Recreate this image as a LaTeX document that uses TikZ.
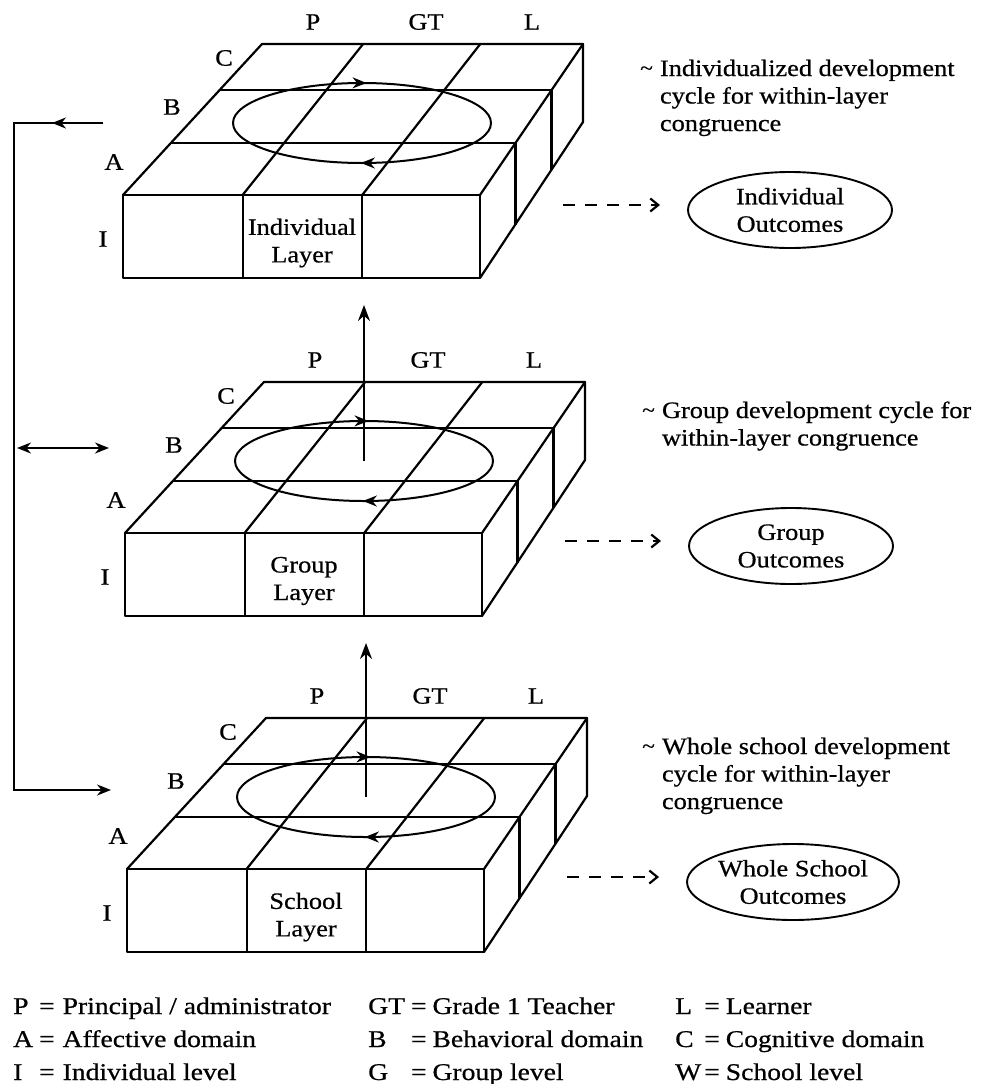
\documentclass[tikz,border=0pt]{standalone}
\usepackage{fontspec}
\setmainfont{Liberation Serif}[FakeStretch=1.12,FakeBold=0.6]
\newfontfamily\legendfont{Liberation Serif}[FakeStretch=1.15,FakeBold=0.6]
\usetikzlibrary{arrows.meta,shapes.geometric,decorations.markings,calc}

\tikzset{
  slab/.style={line width=2.2pt, line join=round, line cap=round},
  txt/.style={font=\fontsize{23.5}{27.5}\selectfont, inner sep=0pt, outer sep=0pt},
  legend/.style={font=\legendfont\fontsize{24}{33}\selectfont, inner sep=0pt, anchor=base west},
  cyclepath/.style={line width=2pt, postaction={decorate}, decoration={markings,
      mark=at position 0.252 with {\arrow{Stealth[length=14pt,width=11pt]}},
      mark=at position 0.758 with {\arrow{Stealth[length=14pt,width=11pt]}}}},
  outcome/.style={draw, ellipse, line width=1.9pt, minimum width=204pt,
      minimum height=76pt, inner sep=0pt, align=center, txt},
  flow/.style={line width=1.9pt, -{Stealth[length=16pt,width=12pt]}},
  feedback/.style={line width=2pt},
  headl/.style={-{Stealth[length=14pt,width=11pt]}},
  result/.style={line width=2.2pt, dash pattern=on 12pt off 10pt,
      -{Straight Barb[length=8pt,width=13pt]}},
  tilde/.style={font=\fontsize{21}{24}\selectfont, inner sep=0pt, anchor=base west},
}

% one layer of the model: a 3x3x1 slab of cells with its development cycle
\newcommand\layerslab[4]{%
\begin{scope}[shift={(#1,#2)}]
  \coordinate (#3-flt) at (123,195);
  \coordinate (#3-frt) at (480,195);
  \coordinate (#3-blt) at (262,44);
  \coordinate (#3-brt) at (583,44);
  \coordinate (#3-flb) at (123,278);
  \coordinate (#3-frb) at (480,278);
  \coordinate (#3-brb) at (583,122);
  \coordinate (#3-ctr) at (362,123);
  \coordinate (#3-bot) at (362,278);
  % front face
  \draw[slab] (#3-flt) rectangle (#3-frb);
  \foreach \t in {0.335,0.67}
    \draw[slab] ($(#3-flt)!\t!(#3-frt)$) -- ($(#3-flb)!\t!(#3-frb)$);
  % top face and right face
  \draw[slab] (#3-flt) -- (#3-blt) -- (#3-brt) -- (#3-brb) -- (#3-frb);
  \draw[slab] (#3-frt) -- (#3-brt);
  \foreach \tf/\tb in {0.335/0.315,0.67/0.68}
    \draw[slab] ($(#3-flt)!\tf!(#3-frt)$) -- ($(#3-blt)!\tb!(#3-brt)$);
  \foreach \s in {0.345,0.695}
    \draw[slab] ($(#3-flt)!\s!(#3-blt)$) -- ($(#3-frt)!\s!(#3-brt)$) -- ($(#3-frb)!\s!(#3-brb)$);
  % development cycle
  \draw[cyclepath] (#3-ctr) ellipse [x radius=129, y radius=40];
  % axis labels
  \node[txt] (#3-P)  at (313,22) {P};
  \node[txt] (#3-GT) at (426,22) {GT};
  \node[txt] (#3-L)  at (532,22) {L};
  \node[txt] (#3-C)  at (224,58) {C};
  \node[txt] (#3-B)  at (172,107) {B};
  \node[txt] (#3-A)  at (114,162) {A};
  \node[txt] (#3-I)  at (103,239) {I};
  \node[txt, align=center] (#3-cap) at (302,243) {#4};
\end{scope}}

\begin{document}
\begin{tikzpicture}[x=1pt,y=-1pt]
\path[use as bounding box, fill=white] (0,0) rectangle (980,1084);

\layerslab{0}{0}{ind}{Individual\\Layer}
\layerslab{2}{338}{grp}{Group\\Layer}
\layerslab{4}{674}{sch}{School\\Layer}

% upward links between layers
\draw[flow] (grp-ctr) -- (grp-ctr |- ind-bot) [shorten >=27pt];
\draw[flow] (sch-ctr) -- (sch-ctr |- grp-bot) [shorten >=27pt];

% cycle descriptions
\node[tilde] (ind-tl) at (640,75) {\textasciitilde};
\node[txt, anchor=base west] (ind-txt) at (660,76)
  {\begin{tabular}[t]{@{}l@{}}Individualized development\\cycle for within-layer\\congruence\end{tabular}};
\node[tilde] (grp-tl) at (642,417) {\textasciitilde};
\node[txt, anchor=base west] (grp-txt) at (662,418)
  {\begin{tabular}[t]{@{}l@{}}Group development cycle for\\within-layer congruence\end{tabular}};
\node[tilde] (sch-tl) at (642,753) {\textasciitilde};
\node[txt, anchor=base west] (sch-txt) at (662,754)
  {\begin{tabular}[t]{@{}l@{}}Whole school development\\cycle for within-layer\\congruence\end{tabular}};

% outcomes
\node[outcome] (ind-out) at (790,210) {Individual\\Outcomes};
\node[outcome] (grp-out) at (791,546) {Group\\Outcomes};
\node[outcome] (sch-out) at (793,882) {Whole School\\Outcomes};

\coordinate (ind-ds) at (563,205);
\coordinate (grp-ds) at (565,541);
\coordinate (sch-ds) at (567,877);
\draw[result] (ind-ds) -- (ind-ds -| ind-out.west) [shorten >=28pt];
\draw[result] (grp-ds) -- (grp-ds -| grp-out.west) [shorten >=28pt];
\draw[result] (sch-ds) -- (sch-ds -| sch-out.west) [shorten >=28pt];

% feedback loop on the left
\coordinate (fb-a) at (103,123);
\coordinate (fb-m) at (52,123);
\coordinate (fb-b) at (14,123);
\coordinate (fb-c) at (14,790);
\coordinate (fb-d) at (111,790);
\coordinate (fb-l) at (17,448);
\coordinate (fb-r) at (109,448);
\draw[feedback, headl] (fb-a) -- (fb-b) -- (fb-c) -- (fb-d);
\draw[feedback, headl] (fb-a) -- (fb-m);
\draw[feedback, {Stealth[length=14pt,width=11pt]}-{Stealth[length=14pt,width=11pt]}] (fb-l) -- (fb-r);

% legend
\node[legend] (leg-1) at (13,1014) {\begin{tabular}[t]{@{}l@{\hspace{6pt}}l@{\hspace{8pt}}l@{}}
  P & = & Principal / administrator\\ A & = & Affective domain\\ I & = & Individual level\end{tabular}};
\node[legend] (leg-2) at (368,1014) {\begin{tabular}[t]{@{}l@{\hspace{6pt}}l@{\hspace{6pt}}l@{}}
  GT & = & Grade 1 Teacher\\ B & = & Behavioral domain\\ G & = & Group level\end{tabular}};
\node[legend] (leg-3) at (675,1014) {\begin{tabular}[t]{@{}l@{\hspace{3pt}}l@{\hspace{6pt}}l@{}}
  L & = & Learner\\ C & = & Cognitive domain\\ W & = & School level\end{tabular}};
\end{tikzpicture}
\end{document}
